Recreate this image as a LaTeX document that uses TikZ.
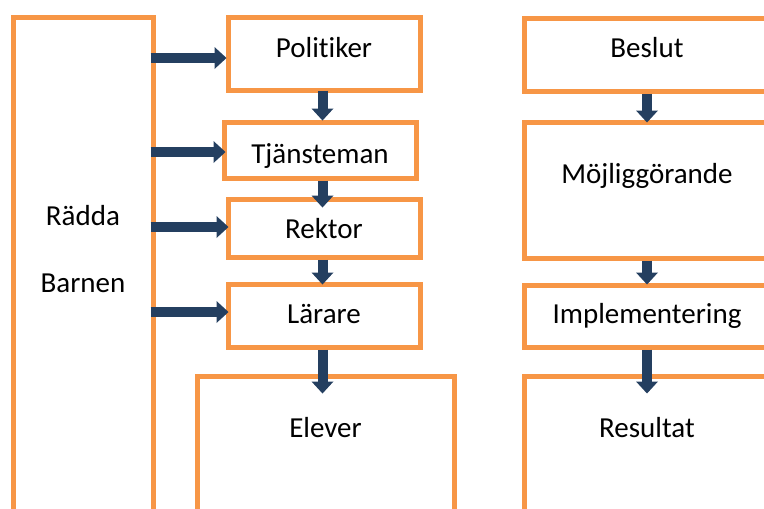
\documentclass[tikz,border=0pt]{standalone}
\usepackage{fontspec}
\setmainfont{Carlito}[Ligatures=NoCommon]
\usetikzlibrary{fit,arrows.meta}
\definecolor{boxorange}{HTML}{F79646}
\definecolor{arrownavy}{HTML}{243F60}
\tikzset{
  box/.style={draw=boxorange, line width=5pt, inner sep=0pt, rectangle},
  arr/.style={draw=arrownavy, line width=10pt,
    -{Triangle[width=22pt,length=12pt,line width=0pt,fill=arrownavy]}},
  txt/.style={anchor=base, inner sep=0pt, font=\fontsize{29}{35}\selectfont},
}
\begin{document}
\begin{tikzpicture}[x=1pt,y=-1pt]
\useasboundingbox (0,0) rectangle (764,509);
\clip (0,0) rectangle (764,509);
% boxes
\node[box, fit={(13,17)(153,560)}] (L) {};
\node[box, fit={(228,17)(420,90)}] (P) {};
\node[box, fit={(224,122)(416,178)}] (T) {};
\node[box, fit={(228,199)(420,257)}] (R) {};
\node[box, fit={(228,284)(420,347)}] (La) {};
\node[box, fit={(197,376)(454,560)}] (E) {};
\node[box, fit={(524,18)(770,91)}] (B) {};
\node[box, fit={(524,122)(770,258)}] (M) {};
\node[box, fit={(524,285)(770,347)}] (I) {};
\node[box, fit={(524,376)(770,560)}] (Re) {};
% texts
\node[txt] (tL1) at (83,225) {Rädda};
\node[txt] (tL2) at (83,292) {Barnen};
\node[txt] (tP) at (324,57) {Politiker};
\node[txt] (tT) at (320,163) {Tjänsteman};
\node[txt] (tR) at (324,238) {Rektor};
\node[txt] (tLa) at (324,323) {Lärare};
\node[txt] (tE) at (325.5,437) {Elever};
\node[txt] (tB) at (647,57) {Beslut};
\node[txt] (tM) at (647,183) {Möjliggörande};
\node[txt] (tI) at (647,323) {Implementering};
\node[txt] (tRe) at (647,437) {Resultat};
% helper coordinates
\coordinate (cx) at (322.5,0);
\coordinate (rx) at (647,0);
\coordinate (h1) at (0,58);
\coordinate (h2) at (0,152);
\coordinate (h3) at (0,227);
\coordinate (h4) at (0,312);
% horizontal arrows
\draw[arr] ([xshift=-5pt]L.east |- h1) -- ([xshift=1pt]P.west |- h1);
\draw[arr] ([xshift=-5pt]L.east |- h2) -- ([xshift=4pt]T.west |- h2);
\draw[arr] ([xshift=-5pt]L.east |- h3) -- ([xshift=3pt]R.west |- h3);
\draw[arr] ([xshift=-5pt]L.east |- h4) -- ([xshift=3pt]La.west |- h4);
% vertical arrows
\draw[arr] ([yshift=2pt]P.south -| cx) -- ([yshift=-1pt]T.north -| cx);
\draw[arr] (T.south -| cx) -- ([yshift=-11pt]R.north -| cx);
\draw[arr] (R.south -| cx) -- ([yshift=-3pt]La.north -| cx);
\draw[arr] (La.south -| cx) -- ([yshift=-20pt]E.north -| cx);
\draw[arr] (B.south -| rx) -- ([yshift=-3pt]M.north -| rx);
\draw[arr] (M.south -| rx) -- ([yshift=-2pt]I.north -| rx);
\draw[arr] (I.south -| rx) -- ([yshift=-20pt]Re.north -| rx);
\end{tikzpicture}
\end{document}
